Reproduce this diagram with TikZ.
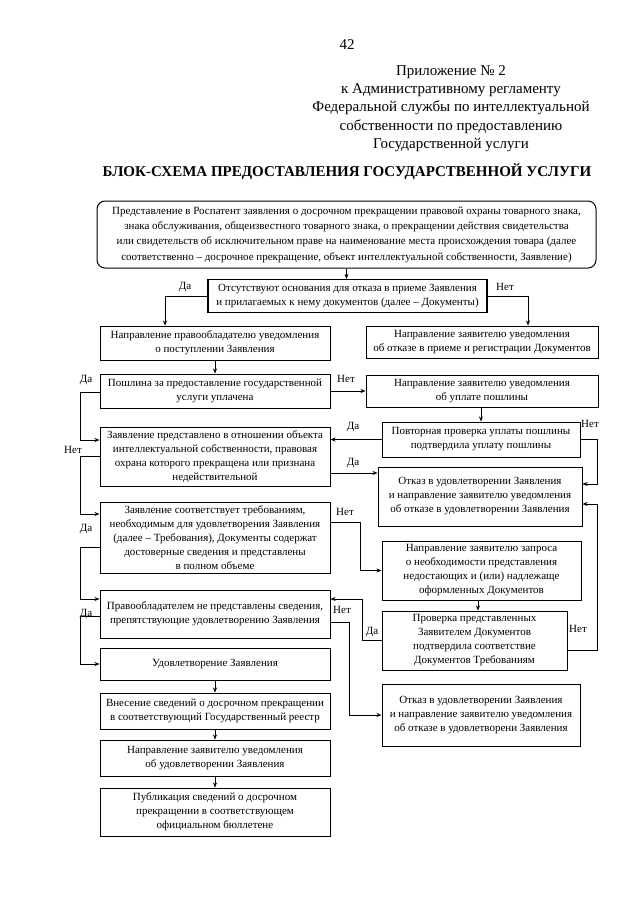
\documentclass[tikz,border=0pt]{standalone}
\usepackage{fontspec}
\setmainfont{Liberation Serif}
\usetikzlibrary{positioning, arrows.meta}

\begin{document}
\begin{tikzpicture}[
    x=1pt, y=-1pt, % one unit = one pixel of the page
    box/.style={draw, line width=1pt, align=center, inner sep=2pt,
      font=\fontsize{11}{14}\selectfont}, % Style for the blocks
    lbl/.style={font=\fontsize{11}{12}\selectfont, inner sep=1pt}, % Style for Да / Нет
    head/.style={font=\fontsize{15}{18.3}\selectfont, inner sep=0pt, align=center},
    arr/.style={-{Stealth[length=5pt,width=4pt]}, line width=0.6pt}
  ]
    \useasboundingbox (0,0) rectangle (640,905);

    % Heading
    \node[head] (page)  at (347,45)    {42};
    \node[head] (annex) at (451,108.5) {Приложение № 2\\к Административному регламенту\\Федеральной службы по интеллектуальной\\собственности по предоставлению\\Государственной услуги};
    \node[head, font=\fontsize{15}{18}\selectfont\bfseries] (title) at (347,172) {БЛОК-СХЕМА ПРЕДОСТАВЛЕНИЯ ГОСУДАРСТВЕННОЙ УСЛУГИ};

    % Blocks
    \node[box, rounded corners=8pt, font=\fontsize{11}{15.3}\selectfont, minimum width=499pt, minimum height=67pt] (start) at (346.5,234.5)
      {Представление в Роспатент заявления о досрочном прекращении правовой охраны товарного знака,\\знака обслуживания, общеизвестного товарного знака, о прекращении действия свидетельства\\или свидетельств об исключительном праве на наименование места происхождения товара (далее\\соответственно -- досрочное прекращение, объект интеллектуальной собственности, Заявление)};
    \node[box, line width=1.3pt, minimum width=279pt, minimum height=33pt] (grounds) at (347.5,296)
      {Отсутствуют основания для отказа в приеме Заявления\\и прилагаемых к нему документов (далее -- Документы)};
    \node[box, minimum width=230pt, minimum height=34pt] (notifyOwner) at (215,343)
      {Направление правообладателю уведомления\\о поступлении Заявления};
    \node[box, minimum width=232pt, minimum height=32pt] (refuseDocs) at (482,342)
      {Направление заявителю уведомления\\об отказе в приеме и регистрации Документов};
    \node[box, minimum width=230pt, minimum height=34pt] (feePaid) at (215,391)
      {Пошлина за предоставление государственной\\услуги уплачена};
    \node[box, minimum width=232pt, minimum height=32pt] (askFee) at (482,391)
      {Направление заявителю уведомления\\об уплате пошлины};
    \node[box, minimum width=198pt, minimum height=35pt] (recheckFee) at (481,439.5)
      {Повторная проверка уплаты пошлины\\подтвердила уплату пошлины};
    \node[box, minimum width=230pt, minimum height=59pt] (objectEnded) at (215,456.5)
      {Заявление представлено в отношении объекта\\интеллектуальной собственности, правовая\\охрана которого прекращена или признана\\недействительной};
    \node[box, minimum width=204pt, minimum height=59pt] (refuseA) at (480,496.5)
      {Отказ в удовлетворении Заявления\\и направление заявителю уведомления\\об отказе в удовлетворении Заявления};
    \node[box, minimum width=230pt, minimum height=71pt] (meetsReq) at (215,537.5)
      {Заявление соответствует требованиям,\\необходимым для удовлетворения Заявления\\(далее -- Требования), Документы содержат\\достоверные сведения и представлены\\в полном объеме};
    \node[box, minimum width=199pt, minimum height=59pt] (askDocs) at (481.5,570.5)
      {Направление заявителю запроса\\о необходимости представления\\недостающих и (или) надлежаще\\оформленных Документов};
    \node[box, minimum width=230pt, minimum height=48pt] (noObstacle) at (215,614)
      {Правообладателем не представлены сведения,\\препятствующие удовлетворению Заявления};
    \node[box, minimum width=185pt, minimum height=59pt] (checkDocs) at (474.5,640.5)
      {Проверка представленных\\Заявителем Документов\\подтвердила соответствие\\Документов Требованиям};
    \node[box, minimum width=230pt, minimum height=32pt] (grant) at (215,664)
      {Удовлетворение Заявления};
    \node[box, minimum width=198pt, minimum height=62pt] (refuseB) at (481,715)
      {Отказ в удовлетворении Заявления\\и направление заявителю уведомления\\об отказе в удовлетворени Заявления};
    \node[box, minimum width=230pt, minimum height=36pt] (register) at (215,711)
      {Внесение сведений о досрочном прекращении\\в соответствующий Государственный реестр};
    \node[box, minimum width=230pt, minimum height=36pt] (notifyGrant) at (215,758)
      {Направление заявителю уведомления\\об удовлетворении Заявления};
    \node[box, minimum width=230pt, minimum height=48pt] (publish) at (215,812)
      {Публикация сведений о досрочном\\прекращении в соответствующем\\официальном бюллетене};

    % Да / Нет labels
    \node[lbl] (yes1) at (185,287) {Да};
    \node[lbl] (no1)  at (505,287) {Нет};
    \node[lbl] (yes2) at (86,380)  {Да};
    \node[lbl] (no2)  at (346,379) {Нет};
    \node[lbl] (yes3) at (353,427) {Да};
    \node[lbl] (no3)  at (590,424) {Нет};
    \node[lbl] (no4)  at (73,450)  {Нет};
    \node[lbl] (yes4) at (353,463) {Да};
    \node[lbl] (yes5) at (86,529)  {Да};
    \node[lbl] (no5)  at (345,512) {Нет};
    \node[lbl] (yes6) at (86,614)  {Да};
    \node[lbl] (no6)  at (342,610) {Нет};
    \node[lbl] (yes7) at (372,632) {Да};
    \node[lbl] (no7)  at (578,629) {Нет};

    % Connectors
    \draw[arr] (start.south) -- (start.south |- grounds.north);
    \draw[arr] (grounds.west) -| ([xshift=-50pt]notifyOwner.north);
    \draw[arr] (grounds.east) -| ([xshift=46pt]refuseDocs.north);
    \draw[arr] (notifyOwner) -- (feePaid);
    \draw[arr] ([yshift=-1pt]feePaid.west) -- ++(-19,0) |- ([yshift=16.5pt]objectEnded.west);
    \draw[arr] (feePaid.east) -- (feePaid.east -| askFee.west);
    \draw[arr] (recheckFee.north |- askFee.south) -- (recheckFee.north);
    \draw[arr] (recheckFee.west) -- (recheckFee.west -| objectEnded.east);
    \draw[arr] (recheckFee.east) -- ++(17,0) |- ([yshift=12.5pt]refuseA.east);
    \draw[arr] (objectEnded.west) -- ++(-19,0) |- ([yshift=23.5pt]meetsReq.west);
    \draw[arr] ([yshift=-16.5pt]objectEnded.east) -- ([yshift=-16.5pt]objectEnded.east -| refuseA.west);
    \draw[arr] ([yshift=-9.5pt]meetsReq.west) -- ++(-19,0) |- ([yshift=15pt]noObstacle.west);
    \draw[arr] ([yshift=15.5pt]meetsReq.east) -- ++(30,0) |- (askDocs.west);
    \draw[arr] ([xshift=3.5pt]checkDocs.north |- askDocs.south) -- ([xshift=3.5pt]checkDocs.north);
    \draw[arr] (checkDocs.west) -- ++(-19,0) |- ([yshift=15pt]noObstacle.east);
    \draw[arr] ([yshift=-9.5pt]checkDocs.east) -- ++(30,0) |- ([yshift=-7.5pt]refuseA.east);
    \draw[arr] ([yshift=-8pt]noObstacle.east) -- ++(19,0) |- (refuseB.west);
    \draw[arr] ([yshift=-2pt]noObstacle.west) -- ++(-19,0) |- (grant.west);
    \draw[arr] (grant) -- (register);
    \draw[arr] (register) -- (notifyGrant);
    \draw[arr] (notifyGrant) -- (publish);
\end{tikzpicture}
\end{document}
